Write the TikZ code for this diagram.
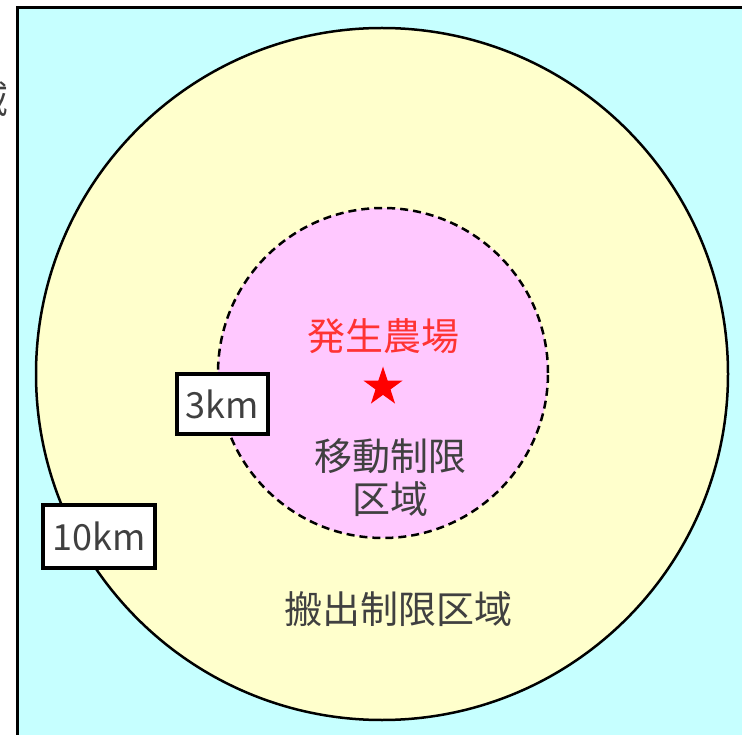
\documentclass[tikz,border=0pt]{standalone}
\usepackage{fontspec}
\newfontfamily\jpfont{Noto Sans CJK JP}
\usetikzlibrary{positioning,shapes.geometric}
\definecolor{seacyan}{HTML}{C6FFFF}
\definecolor{zoneyellow}{HTML}{FFFFCC}
\definecolor{zonepink}{HTML}{FFC8FF}
\definecolor{labelgray}{HTML}{404040}
\definecolor{farmred}{HTML}{FF3333}

\begin{document}
\begin{tikzpicture}[x=1pt, y=-1pt,
    jp/.style={font=\jpfont\fontsize{38}{44}\selectfont, text=labelgray,
      inner sep=0pt, text height=32pt, text depth=6pt},
    zone/.style={circle, draw=black, line width=2.5pt, inner sep=0pt},
    kmbox/.style={draw=black, fill=white, line width=4pt, inner sep=0pt,
      font=\jpfont\fontsize{36}{40}\selectfont, text=labelgray}]
  \useasboundingbox (0,0) rectangle (742,735);
  % background map
  \fill[seacyan] (17.5,7.5) rectangle (750,745);
  \draw[line width=3.5pt] (17.5,745) -- (17.5,7.5) -- (750,7.5);
  \node[jp, anchor=east] (cutoff) at (9,101) {域};

  % zones
  \node[zone, fill=zoneyellow, minimum size=692pt] (outer) at (382,374) {};
  \node[zone, fill=zonepink, dash pattern=on 8pt off 5pt, minimum size=330pt] (inner) at (383,373) {};

  \node[star, star points=5, star point ratio=2.6, fill=red, inner sep=0pt,
    minimum size=41pt] (farm) at (383,387) {};
  \node[jp, text=farmred, above=9pt of farm] (farmname) {発生農場};
  \node[jp] (move1) at (390,457) {移動制限};
  \node[jp, below=5pt of move1] (move2) {区域};
  \node[jp] (carry) at (398,610) {搬出制限区域};

  % radius labels
  \node[kmbox, minimum width=91pt, minimum height=60pt] (r3) at (222,404) {3km};
  \node[kmbox, minimum width=112pt, minimum height=63pt] (r10) at (99,536.5) {10km};
\end{tikzpicture}
\end{document}
